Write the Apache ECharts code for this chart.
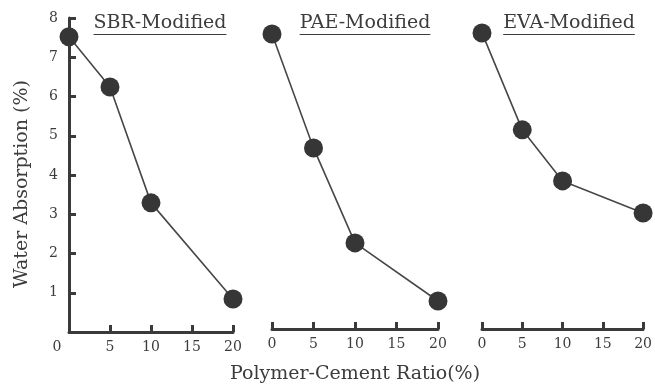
<!DOCTYPE html>
<html>
<head>
<meta charset="utf-8">
<script src="https://cdn.jsdelivr.net/npm/echarts@6/dist/echarts.min.js"></script>
<style>
  html, body { margin: 0; padding: 0; background: #ffffff; }
  #chart { width: 655px; height: 387px; }
</style>
</head>
<body>
<div id="chart"></div>
<script>
// Polymer-cement ratio (%) at which water absorption was measured
const ratios = [0, 5, 10, 20];
// Water absorption (%) for each modifier
const sbrValues = [7.52, 6.24, 3.29, 0.84];
const paeValues = [7.59, 4.69, 2.27, 0.79];
const evaValues = [7.62, 5.15, 3.85, 3.03];
const panelTitles = ['SBR-Modified', 'PAE-Modified', 'EVA-Modified'];
const yAxisName = 'Water Absorption (%)';
const xAxisName = 'Polymer-Cement Ratio(%)';

const FONT = '"DejaVu Serif", "Liberation Serif", serif';
const INK = '#3a3a3a';
const TEXT = '#3c3c3c';

// Panel layout (pixels)
const panels = [
  { left: 69, width: 164, titleX: 160, xOffset: 0 },
  { left: 272, width: 166, titleX: 365, xOffset: -3 },
  { left: 482, width: 164, titleX: 569, xOffset: -3 }
];
const GRID_TOP = 18, GRID_H = 314;
const seriesData = [sbrValues, paeValues, evaValues];

const chart = echarts.init(document.getElementById('chart'), null, { renderer: 'canvas' });

const grids = panels.map(p => ({ left: p.left, top: GRID_TOP, width: p.width, height: GRID_H }));

// Ticks point into the plot area
const tickStyle = { show: true, inside: false, length: -7, lineStyle: { color: INK, width: 3 } };

const xAxes = panels.map((p, i) => ({
  type: 'value', gridIndex: i, min: 0, max: 20, interval: 5,
  offset: p.xOffset,
  axisLine: { show: true, lineStyle: { color: INK, width: 3 } },
  axisTick: tickStyle,
  splitLine: { show: false },
  axisLabel: {
    color: TEXT, fontFamily: FONT, fontSize: 14, margin: 8,
    formatter: v => (i === 0 && v === 0) ? '{z|0}' : String(v),
    rich: { z: { fontFamily: FONT, fontSize: 14, color: TEXT, padding: [0, 24, 0, 0] } }
  }
}));

const yAxes = panels.map((p, i) => ({
  type: 'value', gridIndex: i, min: 0, max: 8, interval: 1,
  show: i === 0,
  axisLine: { show: true, lineStyle: { color: INK, width: 3 } },
  axisTick: tickStyle,
  splitLine: { show: false },
  axisLabel: {
    color: TEXT, fontFamily: FONT, fontSize: 14, margin: 11,
    formatter: v => v === 0 ? '' : String(v)
  }
}));

const series = seriesData.map((vals, i) => ({
  type: 'line', xAxisIndex: i, yAxisIndex: i,
  data: ratios.map((r, k) => [r, vals[k]]),
  symbol: 'circle', symbolSize: 19,
  lineStyle: { color: '#474747', width: 1.6 },
  itemStyle: { color: '#363636' },
  animation: false, z: 3
}));

// Measure title widths so the underlines match the text
const ctx = document.createElement('canvas').getContext('2d');
ctx.font = '19px ' + FONT;

const titles = panels.map((p, i) => ({
  text: panelTitles[i], left: p.titleX, top: 14, textAlign: 'center', padding: 0,
  textStyle: { fontFamily: FONT, fontSize: 19, fontWeight: 'normal', color: TEXT }
}));
titles.push({
  text: xAxisName, left: 355, top: 365, textAlign: 'center', padding: 0,
  textStyle: { fontFamily: FONT, fontSize: 19, fontWeight: 'normal', color: TEXT }
});

const graphics = panels.map((p, i) => {
  const w = ctx.measureText(panelTitles[i]).width;
  return {
    type: 'line', silent: true,
    shape: { x1: p.titleX - w / 2, y1: 34.5, x2: p.titleX + w / 2, y2: 34.5 },
    style: { stroke: TEXT, lineWidth: 1 }
  };
});
graphics.push({
  type: 'text', x: 22, y: 184, rotation: Math.PI / 2, silent: true,
  style: {
    text: yAxisName, fill: TEXT, font: '19px ' + FONT,
    align: 'center', verticalAlign: 'middle'
  }
});

chart.setOption({
  backgroundColor: '#ffffff',
  animation: false,
  title: titles,
  grid: grids,
  xAxis: xAxes,
  yAxis: yAxes,
  series: series,
  graphic: graphics
});
</script>
</body>
</html>
